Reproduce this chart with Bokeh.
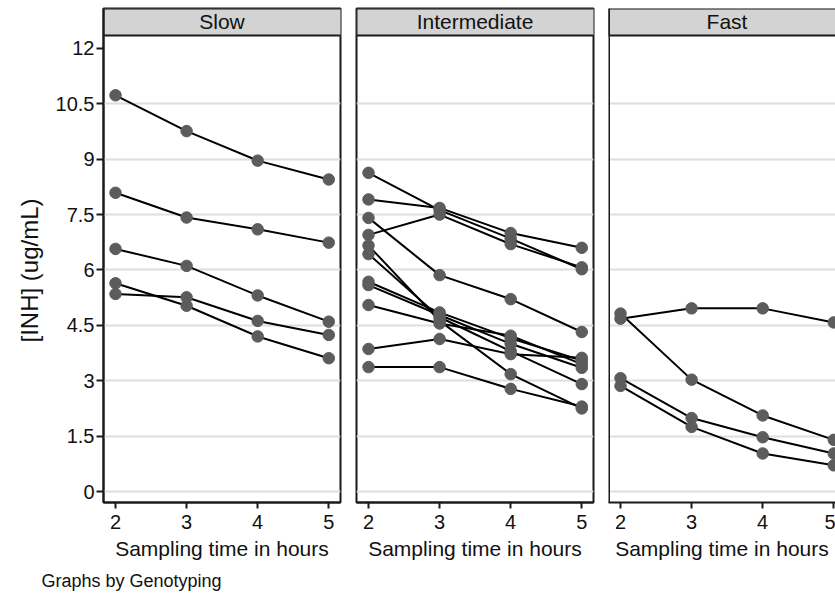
from bokeh.plotting import figure
from bokeh.layouts import row
from bokeh.models import Range1d, FixedTicker, Title
from bokeh.core.properties import value
from bokeh.embed import file_html
from bokeh.resources import INLINE

# ---------------- data ----------------
hours = [2, 3, 4, 5]
panel_names = ["Slow", "Intermediate", "Fast"]

slow = [
    [10.73, 9.76, 8.96, 8.45],
    [8.09, 7.42, 7.10, 6.74],
    [6.57, 6.11, 5.31, 4.60],
    [5.64, 5.03, 4.20, 3.61],
    [5.35, 5.26, 4.62, 4.24],
]
intermediate = [
    [8.63, 7.62, 6.85, 6.02],
    [7.91, 7.68, 7.00, 6.60],
    [6.95, 7.50, 6.70, 6.07],
    [7.41, 5.86, 5.21, 4.32],
    [6.66, 4.62, 3.18, 2.25],
    [6.43, 4.72, 3.80, 2.91],
    [5.68, 4.85, 4.15, 3.55],
    [5.59, 4.78, 4.00, 3.35],
    [5.05, 4.55, 4.22, 3.45],
    [3.86, 4.13, 3.72, 3.62],
    [3.37, 3.37, 2.78, 2.30],
]
fast = [
    [4.68, 4.96, 4.96, 4.58],
    [4.82, 3.03, 2.06, 1.40],
    [3.07, 1.99, 1.47, 1.03],
    [2.86, 1.75, 1.03, 0.71],
]
y_ticks = [0, 1.5, 3, 4.5, 6, 7.5, 9, 10.5, 12]
y_tick_labels = ["0", "1.5", "3", "4.5", "6", "7.5", "9", "10.5", "12"]
x_ticks = [2, 3, 4, 5]
y_title = "[INH] (ug/mL)"
x_title = "Sampling time in hours"
note = "Graphs by Genotyping"

# ---------------- style ----------------
FONT = "Liberation Sans"
X0, X1 = 1.831, 5.165
Y0, Y1 = -0.297, 13.08
STRIP_BOTTOM = 12.35
MARKER = "#5c5c5c"
FRAME = "#1a1a1a"
GRID = "#dedede"
STRIP = "#d3d3d3"
TXT = "#111111"
H = 596


def make_panel(name, series, width, bl, br, x_end, first, last):
    p = figure(width=width, height=H, output_backend="svg", toolbar_location=None,
               x_range=Range1d(X0, x_end), y_range=Range1d(Y0, Y1),
               min_border_left=bl, min_border_right=br, min_border_top=8,
               min_border_bottom=H - 8 - 495)
    p.background_fill_color = "white"
    p.border_fill_color = "white"
    p.outline_line_color = None if last else FRAME
    p.outline_line_width = 2
    p.xgrid.visible = False
    p.ygrid.ticker = FixedTicker(ticks=y_ticks[:-1])
    p.ygrid.grid_line_color = GRID
    p.ygrid.grid_line_width = 2

    # x axis
    xa = p.xaxis[0]
    xa.ticker = FixedTicker(ticks=x_ticks)
    xa.axis_label = x_title
    xa.axis_label_text_font = FONT
    xa.axis_label_text_font_size = "21px"
    xa.axis_label_text_font_style = "normal"
    xa.axis_label_text_color = TXT
    xa.axis_label_standoff = 5
    xa.major_label_text_font = FONT
    xa.major_label_text_font_size = "20px"
    xa.major_label_text_color = TXT
    xa.major_label_standoff = 6
    xa.major_tick_in = 0
    xa.major_tick_out = 6
    xa.major_tick_line_width = 2
    xa.major_tick_line_color = FRAME
    xa.minor_tick_line_color = None
    xa.axis_line_color = FRAME
    xa.axis_line_width = 2

    # y axis
    ya = p.yaxis[0]
    if first:
        ya.ticker = FixedTicker(ticks=y_ticks)
        ya.major_label_overrides = {t: l for t, l in zip(y_ticks, y_tick_labels)}
        ya.major_label_text_font = FONT
        ya.major_label_text_font_size = "20px"
        ya.major_label_text_color = TXT
        ya.major_label_standoff = 2
        ya.major_label_orientation = "horizontal"
        ya.major_tick_in = 0
        ya.major_tick_out = 7
        ya.major_tick_line_width = 2
        ya.major_tick_line_color = FRAME
        ya.minor_tick_line_color = None
        ya.axis_line_color = FRAME
        ya.axis_line_width = 2
    else:
        ya.visible = False

    # strip (panel heading)
    p.quad(left=[X0], right=[x_end + (X1 - X0)], bottom=[STRIP_BOTTOM], top=[Y1],
           fill_color=STRIP, line_color=FRAME, line_width=2)
    p.text(x=[(X0 + X1) / 2], y=[(STRIP_BOTTOM + Y1) / 2], text=[name],
           text_font=value(FONT), text_font_size="21px", text_align="center",
           text_baseline="middle", text_color=TXT)

    if last:
        # left border of the cropped last panel
        p.segment(x0=[X0], y0=[Y0], x1=[X0], y1=[Y1], line_color=FRAME, line_width=3)

    for s in series:
        p.line(hours, s, line_color="black", line_width=2)
    for s in series:
        p.scatter(hours, s, size=11.5, fill_color=MARKER, line_color=MARKER)
    return p


p1 = make_panel(panel_names[0], slow, 348, 103, 8, X1, True, False)
p2 = make_panel(panel_names[1], intermediate, 252, 8, 7, X1, False, False)
p3_width = 835 - 348 - 252
p3_end = X0 + (p3_width - 8) * (X1 - X0) / 237.0
p3 = make_panel(panel_names[2], fast, p3_width, 8, 0, p3_end, False, True)

# y title centred on the plot region below the strip
p1.add_layout(Title(text=y_title, align="left", offset=160, text_font=FONT,
                    text_font_size="24px", text_font_style="normal",
                    text_color=TXT, standoff=20), "left")
p1.add_layout(Title(text=note, align="left", offset=-62, text_font=FONT,
                    text_font_size="18px", text_font_style="normal",
                    text_color=TXT, standoff=12, vertical_align="bottom"), "below")

layout = row(p1, p2, p3)
open("out.html", "w").write(file_html(layout, INLINE))
